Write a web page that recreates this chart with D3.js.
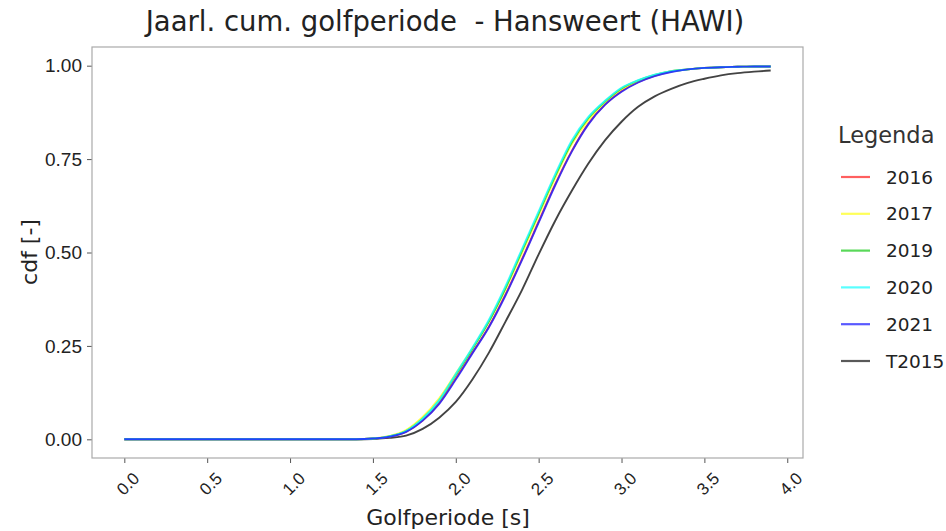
<!DOCTYPE html>
<html>
<head>
<meta charset="utf-8">
<script src="https://cdn.jsdelivr.net/npm/d3@7"></script>
<style>
  body { margin: 0; background: #fff; }
  svg { font-family: "DejaVu Sans", sans-serif; }
</style>
</head>
<body>
<svg width="946" height="531"></svg>
<script>
// golfperiode grid (s)
const periods = d3.range(0, 40).map(i => +(i / 10).toFixed(1));

// cdf values, 0.0 .. 3.9 s
const zeros = [0, 0, 0, 0, 0, 0, 0, 0, 0, 0, 0, 0, 0, 0, 0];
const cdf2016 = zeros.concat([0.002, 0.007, 0.02, 0.05, 0.097, 0.163, 0.232, 0.302, 0.388, 0.483, 0.583, 0.683, 0.772, 0.845, 0.896, 0.932, 0.956, 0.973, 0.984, 0.99, 0.994, 0.996, 0.997, 0.998, 0.998]);
const cdf2017 = zeros.concat([0.002, 0.009, 0.025, 0.06, 0.11, 0.176, 0.243, 0.315, 0.402, 0.5, 0.6, 0.7, 0.79, 0.855, 0.902, 0.937, 0.959, 0.974, 0.985, 0.99, 0.994, 0.996, 0.997, 0.998, 0.998]);
const cdf2019 = zeros.concat([0.002, 0.008, 0.022, 0.055, 0.104, 0.172, 0.242, 0.316, 0.405, 0.505, 0.605, 0.705, 0.795, 0.86, 0.904, 0.939, 0.96, 0.975, 0.985, 0.99, 0.994, 0.996, 0.997, 0.998, 0.998]);
const cdf2020 = zeros.concat([0.002, 0.008, 0.022, 0.055, 0.105, 0.175, 0.245, 0.32, 0.41, 0.51, 0.61, 0.71, 0.8, 0.863, 0.906, 0.941, 0.961, 0.976, 0.985, 0.99, 0.994, 0.996, 0.997, 0.998, 0.998]);
const cdf2021 = zeros.concat([0.002, 0.007, 0.02, 0.05, 0.095, 0.16, 0.23, 0.3, 0.385, 0.48, 0.58, 0.68, 0.77, 0.843, 0.895, 0.93, 0.955, 0.972, 0.983, 0.99, 0.994, 0.996, 0.997, 0.998, 0.998]);
const cdfT2015 = zeros.concat([0.001, 0.004, 0.01, 0.028, 0.058, 0.1, 0.16, 0.232, 0.315, 0.4, 0.495, 0.585, 0.665, 0.738, 0.8, 0.85, 0.89, 0.918, 0.938, 0.954, 0.965, 0.974, 0.98, 0.984, 0.987]);

const seriesNames = ["2016", "2017", "2019", "2020", "2021", "T2015"];
const seriesColors = ["#ff2a2a", "#ffff22", "#22cc22", "#22ffff", "#2222ff", "#222222"];
const xTicks = [0, 0.5, 1, 1.5, 2, 2.5, 3, 3.5, 4];
const yTicks = [0, 0.25, 0.5, 0.75, 1];

const series = [cdf2016, cdf2017, cdf2019, cdf2020, cdf2021, cdfT2015].map((vals, i) => ({
    name: seriesNames[i],
    color: seriesColors[i],
    values: vals.map((v, j) => ({ x: periods[j], y: v }))
}));

const svg = d3.select("svg");
const plotLeft = 92, plotRight = 803, plotTop = 47, plotBottom = 458;

// matplotlib style 5% margins
const x = d3.scaleLinear().domain([-0.195, 4.095]).range([plotLeft, plotRight]);
const y = d3.scaleLinear().domain([-0.05, 1.05]).range([plotBottom, plotTop]);

svg.append("text")
    .attr("x", 445).attr("y", 31)
    .attr("text-anchor", "middle")
    .attr("xml:space", "preserve")
    .style("white-space", "pre")
    .style("font-size", "27.5px").style("fill", "#222")
    .text("Jaarl. cum. golfperiode  - Hansweert (HAWI)");

// x axis
const xAxis = svg.append("g")
    .attr("transform", "translate(0," + plotBottom + ")")
    .call(d3.axisBottom(x).tickValues(xTicks).tickFormat(d3.format(".1f")).tickSize(5).tickPadding(4));
xAxis.selectAll("text")
    .attr("text-anchor", "end")
    .attr("dy", "0.35em")
    .attr("transform", "translate(5,11) rotate(-45)")
    .style("font-size", "17px").style("fill", "#222");

// y axis
const yAxis = svg.append("g")
    .attr("transform", "translate(" + plotLeft + ",0)")
    .call(d3.axisLeft(y).tickValues(yTicks).tickFormat(d3.format(".2f")).tickSize(5).tickPadding(5));
yAxis.selectAll("text").style("font-size", "19px").style("fill", "#222");

svg.selectAll(".domain").remove();
svg.selectAll(".tick line").attr("stroke", "#555");

svg.append("rect")
    .attr("x", plotLeft).attr("y", plotTop)
    .attr("width", plotRight - plotLeft).attr("height", plotBottom - plotTop)
    .attr("fill", "none").attr("stroke", "#aaa").attr("stroke-width", 1.2);

svg.append("text")
    .attr("x", 448).attr("y", 525)
    .attr("text-anchor", "middle")
    .style("font-size", "22px").style("fill", "#222")
    .text("Golfperiode [s]");

svg.append("text")
    .attr("transform", "translate(37,252) rotate(-90)")
    .attr("text-anchor", "middle")
    .style("font-size", "22px").style("fill", "#222")
    .text("cdf [-]");

const line = d3.line()
    .x(d => x(d.x))
    .y(d => y(d.y))
    .curve(d3.curveMonotoneX);

// T2015 first, so the coloured years lie on top
const drawOrder = [5, 0, 1, 2, 3, 4];
svg.append("g")
    .selectAll("path")
    .data(drawOrder.map(i => series[i])).enter()
    .append("path")
    .attr("d", d => line(d.values))
    .attr("fill", "none")
    .attr("stroke", d => d.color)
    .attr("stroke-width", 1.9)
    .attr("opacity", 0.85);

// legend
const legend = svg.append("g").attr("transform", "translate(838,0)");
legend.append("text")
    .attr("x", 0).attr("y", 143)
    .style("font-size", "22.5px").style("fill", "#333")
    .text("Legenda");

const item = legend.selectAll(".item")
    .data(series).enter()
    .append("g")
    .attr("transform", (d, i) => "translate(0," + (177 + i * 36.8) + ")");
item.append("line")
    .attr("x1", 3).attr("x2", 32)
    .attr("stroke", d => d.color)
    .attr("stroke-width", 2.2)
    .attr("opacity", 0.75);
item.append("text")
    .attr("x", 48).attr("y", 6.5)
    .style("font-size", "18.5px").style("fill", "#222")
    .text(d => d.name);
</script>
</body>
</html>
